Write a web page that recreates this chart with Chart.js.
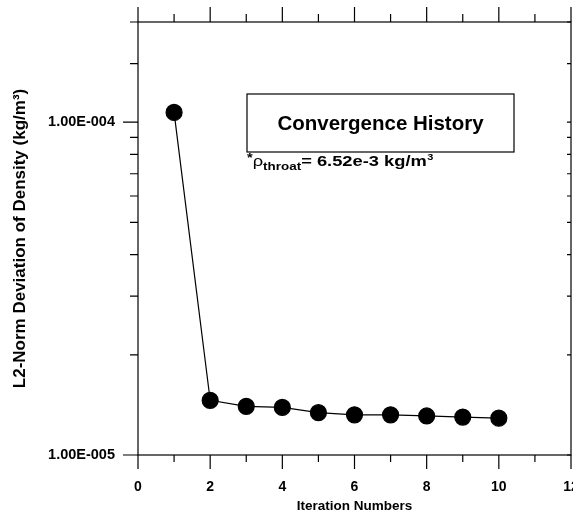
<!DOCTYPE html>
<html lang="en">
<head>
<meta charset="UTF-8">
<title>Convergence History</title>
<style>
    * { margin: 0; padding: 0; box-sizing: border-box; }
    body { background: #ffffff; }
    .chart-wrap { width: 573px; height: 514px; position: relative; }
</style>
</head>
<body>
<div class="chart-wrap">
    <canvas id="convChart"></canvas>
</div>

<script src="https://cdn.jsdelivr.net/npm/chart.js"></script>
<script>
    // data
    const iterations = [1, 2, 3, 4, 5, 6, 7, 8, 9, 10];
    const deviation = [1.07e-4, 1.46e-5, 1.40e-5, 1.39e-5, 1.34e-5, 1.32e-5, 1.32e-5, 1.31e-5, 1.30e-5, 1.29e-5];
    const xRange = [0, 12];
    const yRange = [1e-5, 2e-4];
    const xLabelStep = 2;

    const FONT = "'Liberation Sans', Arial, sans-serif";

    function isDecade(v) {
        const l = Math.log10(v);
        return Math.abs(l - Math.round(l)) < 1e-9;
    }

    function expLabel(v) {
        const e = Math.round(Math.log10(v));
        const s = String(Math.abs(e)).padStart(3, '0');
        return '1.00E' + (e < 0 ? '-' : '+') + s;
    }

    // frame, outward ticks and the text box
    const framePlugin = {
        id: 'frame',
        afterDraw(chart) {
            const { ctx, chartArea: a, scales } = chart;
            const xs = scales.x, ys = scales.y;
            ctx.save();
            ctx.strokeStyle = '#000';
            ctx.lineWidth = 1.2;
            ctx.strokeRect(a.left, a.top, a.right - a.left, a.bottom - a.top);

            ctx.beginPath();
            xs.ticks.forEach(t => {
                const px = xs.getPixelForValue(t.value);
                const major = t.value % xLabelStep === 0;
                ctx.moveTo(px, a.bottom);
                ctx.lineTo(px, a.bottom + (major ? 14 : 7));
                ctx.moveTo(px, a.top);
                ctx.lineTo(px, a.top - (major ? 15 : 8));
            });
            ys.ticks.forEach(t => {
                const py = ys.getPixelForValue(t.value);
                const major = isDecade(t.value);
                ctx.moveTo(a.left, py);
                ctx.lineTo(a.left - (major ? 15 : 8), py);
                ctx.moveTo(a.right, py);
                ctx.lineTo(a.right - 4, py);
            });
            ctx.stroke();

            // text box
            const bx = a.left + 109, by = a.top + 72, bw = 267, bh = 58;
            ctx.lineWidth = 1.2;
            ctx.strokeRect(bx, by, bw, bh);
            ctx.fillStyle = '#000';
            ctx.textAlign = 'center';
            ctx.textBaseline = 'middle';
            ctx.font = 'bold 20.5px ' + FONT;
            ctx.fillText('Convergence History', bx + bw / 2, by + bh / 2 + 1);

            // *rho_throat = 6.52e-3 kg/m^3  (wide lettering, stretched a little)
            ctx.textAlign = 'left';
            ctx.textBaseline = 'alphabetic';
            ctx.translate(bx, by + bh + 14);
            ctx.scale(1.22, 1);
            let x = 0;
            ctx.font = 'bold 12px ' + FONT;
            ctx.fillText('*', x, -4);
            x += ctx.measureText('*').width;
            ctx.font = '15px ' + FONT;
            ctx.fillText('\u03c1', x, 0);
            x += ctx.measureText('\u03c1').width;
            ctx.font = 'bold 11px ' + FONT;
            ctx.fillText('throat', x, 4);
            x += ctx.measureText('throat').width;
            ctx.font = 'bold 15px ' + FONT;
            ctx.fillText('= 6.52e-3 kg/m', x, 0);
            x += ctx.measureText('= 6.52e-3 kg/m').width;
            ctx.font = 'bold 9px ' + FONT;
            ctx.fillText('3', x + 0.5, -6);
            ctx.restore();
        }
    };

    const ctx = document.getElementById('convChart').getContext('2d');
    const convChart = new Chart(ctx, {
        type: 'line',
        data: {
            datasets: [{
                data: iterations.map((it, i) => ({ x: it, y: deviation[i] })),
                borderColor: '#000',
                backgroundColor: '#000',
                borderWidth: 1.2,
                pointRadius: 8,
                pointHoverRadius: 8,
                pointBackgroundColor: '#000',
                pointBorderColor: '#000',
                tension: 0,
                fill: false
            }]
        },
        options: {
            responsive: true,
            maintainAspectRatio: false,
            animation: false,
            events: [],
            layout: { autoPadding: false, padding: { top: 22, right: 2, left: 0, bottom: 0 } },
            plugins: {
                legend: { display: false },
                tooltip: { enabled: false }
            },
            scales: {
                x: {
                    type: 'linear',
                    min: xRange[0],
                    max: xRange[1],
                    border: { display: false },
                    grid: { drawOnChartArea: false, tickLength: 14, tickColor: 'transparent' },
                    ticks: {
                        stepSize: 1,
                        autoSkip: false,
                        maxRotation: 0,
                        padding: 10,
                        color: '#000',
                        font: { family: FONT, size: 14, weight: 'bold' },
                        callback: v => (v % xLabelStep === 0 ? String(v) : '')
                    },
                    title: {
                        display: true,
                        text: 'Iteration Numbers',
                        color: '#000',
                        font: { family: FONT, size: 13.5, weight: 'bold' },
                        padding: { top: 0, bottom: 0 }
                    },
                    afterFit(scale) {
                        scale.height = 59;
                        scale.paddingLeft = 0;
                        scale.paddingRight = 0;
                    }
                },
                y: {
                    type: 'logarithmic',
                    min: yRange[0],
                    max: yRange[1],
                    border: { display: false },
                    grid: { drawOnChartArea: false, tickLength: 15, tickColor: 'transparent' },
                    ticks: {
                        autoSkip: false,
                        padding: 8,
                        color: '#000',
                        font: { family: FONT, size: 14.5, weight: 'bold' },
                        callback: v => (isDecade(v) ? expLabel(v) : '')
                    },
                    title: {
                        display: true,
                        text: 'L2-Norm Deviation of Density (kg/m\u00b3)',
                        color: '#000',
                        font: { family: FONT, size: 17, weight: 'bold' },
                        padding: { top: 10, bottom: 0 }
                    },
                    afterFit(scale) {
                        scale.width = 138;
                        scale.paddingTop = 0;
                        scale.paddingBottom = 0;
                    }
                }
            }
        },
        plugins: [framePlugin]
    });
</script>
</body>
</html>
